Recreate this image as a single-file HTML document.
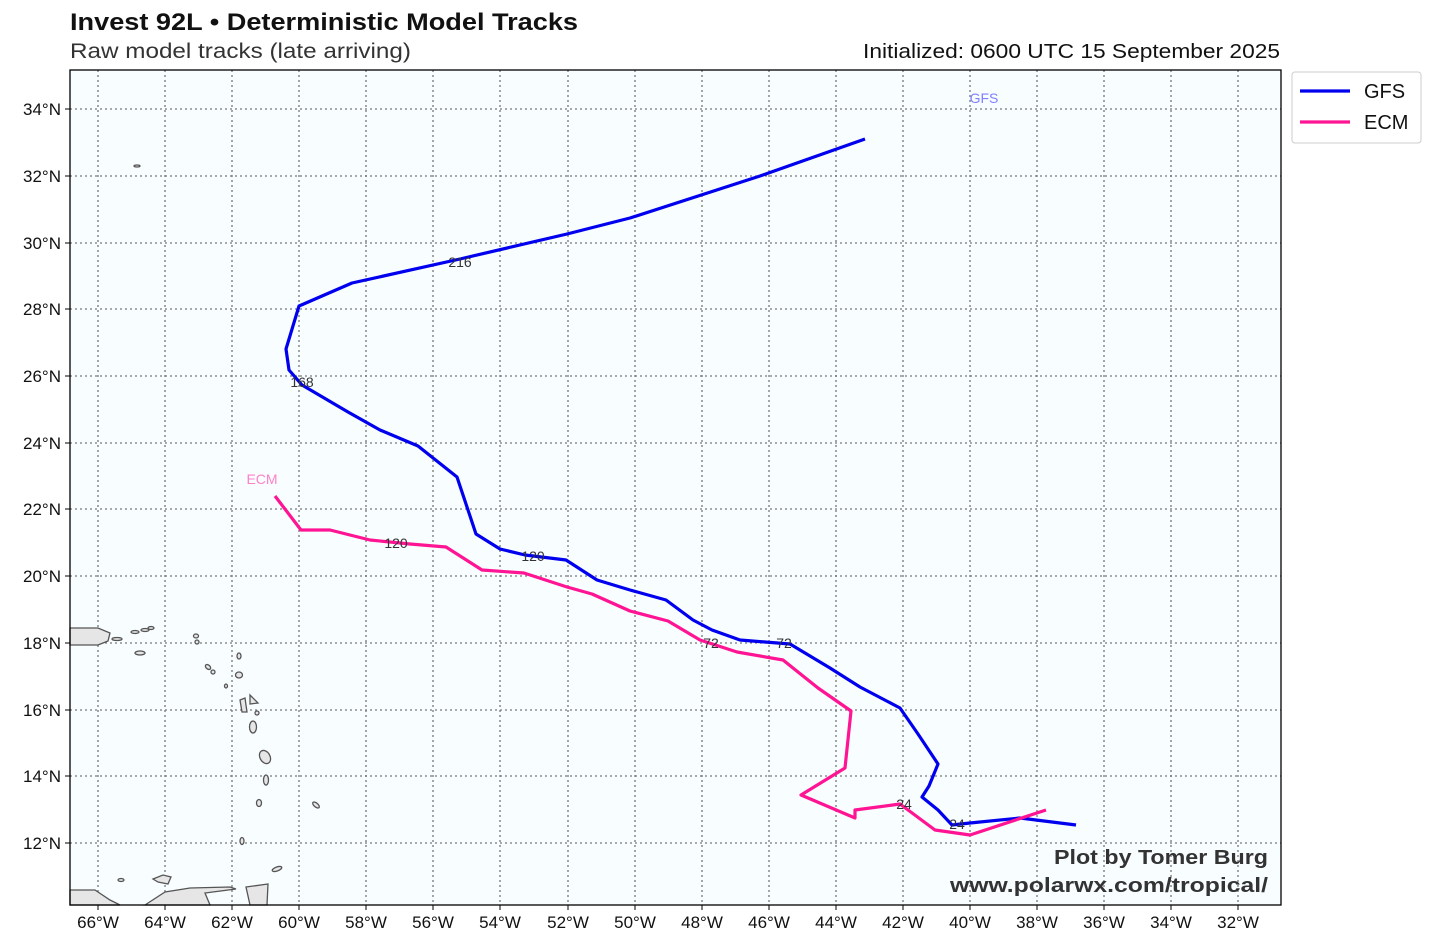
<!DOCTYPE html>
<html><head><meta charset="utf-8"><style>
body{margin:0;background:#fff;}
svg{display:block;font-family:"Liberation Sans","DejaVu Sans",sans-serif;}
</style></head><body>
<svg width="1434" height="945" viewBox="0 0 1434 945" xmlns="http://www.w3.org/2000/svg">
<rect width="1434" height="945" fill="#fff"/>
<text x="70" y="30" font-size="24" font-weight="bold" fill="#111" textLength="508" lengthAdjust="spacingAndGlyphs">Invest 92L • Deterministic Model Tracks</text>
<text x="70" y="58" font-size="21" fill="#333" textLength="341" lengthAdjust="spacingAndGlyphs">Raw model tracks (late arriving)</text>
<text x="863" y="58" font-size="20" fill="#111" textLength="417" lengthAdjust="spacingAndGlyphs">Initialized: 0600 UTC 15 September 2025</text>
<rect x="70" y="70" width="1211" height="835" fill="#f8fdff"/>
<g stroke="#777" stroke-width="1.3" stroke-dasharray="2,3" fill="none">
<path d="M98 70V905M165 70V905M232 70V905M299 70V905M366 70V905M433 70V905M500 70V905M568 70V905M635 70V905M702 70V905M769 70V905M836 70V905M903 70V905M970 70V905M1037 70V905M1104 70V905M1171 70V905M1238 70V905"/>
<path d="M70 109H1281M70 176H1281M70 243H1281M70 309H1281M70 376H1281M70 443H1281M70 509H1281M70 576H1281M70 643H1281M70 710H1281M70 776H1281M70 843H1281"/>
</g>
<g fill="#e6e6e6" stroke="#555" stroke-width="1.3">
<path d="M70 628L98 628L110 633L108 641L98 645L70 645Z"/>
<ellipse cx="117" cy="639" rx="5" ry="1.5"/><ellipse cx="135" cy="632" rx="4" ry="1.5"/><ellipse cx="145" cy="630" rx="4" ry="1.5"/><ellipse cx="151" cy="628" rx="3" ry="1.5"/>
<ellipse cx="140" cy="653" rx="5" ry="2"/><ellipse cx="196" cy="636" rx="2.5" ry="2"/><ellipse cx="197" cy="642" rx="2" ry="2"/>
<ellipse cx="208" cy="667" rx="3" ry="2" transform="rotate(40 208 667)"/><ellipse cx="213" cy="672" rx="2" ry="2"/>
<ellipse cx="239" cy="656" rx="2" ry="3"/><ellipse cx="239" cy="675" rx="3.5" ry="3"/><ellipse cx="226" cy="686" rx="1.5" ry="2"/>
<path d="M240 700L245 698L247 712L242 712Z"/><path d="M250 695L258 703L250 704Z"/><ellipse cx="257" cy="713" rx="2" ry="2"/>
<ellipse cx="253" cy="727" rx="3.5" ry="6"/><ellipse cx="265" cy="757" rx="5" ry="7" transform="rotate(-30 265 757)"/>
<ellipse cx="266" cy="780" rx="2.5" ry="5"/><ellipse cx="259" cy="803" rx="2.5" ry="3.5"/><ellipse cx="242" cy="841" rx="2" ry="3.5"/>
<ellipse cx="316" cy="805" rx="4" ry="2" transform="rotate(40 316 805)"/>
<ellipse cx="137" cy="166" rx="3" ry="1"/><ellipse cx="121" cy="880" rx="3" ry="1.5"/>
<path d="M153 879L163 875L171 877L168 884L158 882Z"/><ellipse cx="277" cy="869" rx="5" ry="2" transform="rotate(-20 277 869)"/>
<path d="M70 890L95 890L110 900L120 905L70 905Z"/>
<path d="M145 905L165 892L190 888L230 887L236 889L205 893L210 905Z"/>
<path d="M246 887L268 884L267 905L250 905Z"/>
</g>
<rect x="70" y="70" width="1211" height="835" fill="none" stroke="#000" stroke-width="1.3"/>
<g stroke="#000" stroke-width="1"><path d="M98 905v5M165 905v5M232 905v5M299 905v5M366 905v5M433 905v5M500 905v5M568 905v5M635 905v5M702 905v5M769 905v5M836 905v5M903 905v5M970 905v5M1037 905v5M1104 905v5M1171 905v5M1238 905v5"/>
<path d="M65 109h5M65 176h5M65 243h5M65 309h5M65 376h5M65 443h5M65 509h5M65 576h5M65 643h5M65 710h5M65 776h5M65 843h5"/></g>
<g font-size="17" fill="#111" text-anchor="middle">
<text x="98" y="928">66°W</text><text x="165" y="928">64°W</text><text x="232" y="928">62°W</text><text x="299" y="928">60°W</text><text x="366" y="928">58°W</text><text x="433" y="928">56°W</text><text x="500" y="928">54°W</text><text x="568" y="928">52°W</text><text x="635" y="928">50°W</text><text x="702" y="928">48°W</text><text x="769" y="928">46°W</text><text x="836" y="928">44°W</text><text x="903" y="928">42°W</text><text x="970" y="928">40°W</text><text x="1037" y="928">38°W</text><text x="1104" y="928">36°W</text><text x="1171" y="928">34°W</text><text x="1238" y="928">32°W</text>
</g>
<g font-size="17" fill="#111" text-anchor="end">
<text x="61" y="115">34°N</text><text x="61" y="182">32°N</text><text x="61" y="249">30°N</text><text x="61" y="315">28°N</text><text x="61" y="382">26°N</text><text x="61" y="449">24°N</text><text x="61" y="515">22°N</text><text x="61" y="582">20°N</text><text x="61" y="649">18°N</text><text x="61" y="716">16°N</text><text x="61" y="782">14°N</text><text x="61" y="849">12°N</text>
</g>
<polyline fill="none" stroke="#0000ee" stroke-width="3.2" stroke-linejoin="round" points="865,139 760,176 630,218 567,234 460,259 352,283 299,306 286,349 289,370 302,385 348,412 380,430 418,446 457,477 476,534 500,549 525,555 566,560 597,580 630,590 666,600 693,620 712,630 740,640 790,644 830,668 860,687 900,708 918,734 938,764 929,786 922,797 938,810 952,825 970,823 1020,818 1076,825"/>
<polyline fill="none" stroke="#ff1493" stroke-width="3.2" stroke-linejoin="round" points="275,496 301,530 330,530 370,540 410,544 446,547 482,570 524,573 567,587 592,594 630,611 668,621 700,640 737,652 783,660 818,688 851,711 845,768 801,795 855,818 855,810 900,804 935,830 970,835 1046,810"/>
<g font-size="14" fill="#333" text-anchor="middle">
<text x="460" y="267">216</text><text x="302" y="387">168</text><text x="396" y="548">120</text><text x="533" y="561">120</text><text x="711" y="648">72</text><text x="784" y="648">72</text><text x="904" y="809">24</text><text x="957" y="829">24</text>
</g>
<text x="984" y="103" font-size="14" fill="#8080ff" text-anchor="middle">GFS</text>
<text x="262" y="484" font-size="14" fill="#ff80c8" text-anchor="middle">ECM</text>
<text x="1054" y="864" font-size="20" font-weight="bold" fill="#333" textLength="214" lengthAdjust="spacingAndGlyphs">Plot by Tomer Burg</text>
<text x="950" y="892" font-size="20" font-weight="bold" fill="#333" textLength="318" lengthAdjust="spacingAndGlyphs">www.polarwx.com/tropical/</text>
<rect x="1292" y="72" width="129" height="71" rx="3" fill="#fff" stroke="#ccc"/>
<line x1="1300" y1="91" x2="1350" y2="91" stroke="#0000ee" stroke-width="3.2"/>
<line x1="1300" y1="122" x2="1350" y2="122" stroke="#ff1493" stroke-width="3.2"/>
<text x="1364" y="98" font-size="20" fill="#111">GFS</text>
<text x="1364" y="129" font-size="20" fill="#111">ECM</text>
</svg>
</body></html>
